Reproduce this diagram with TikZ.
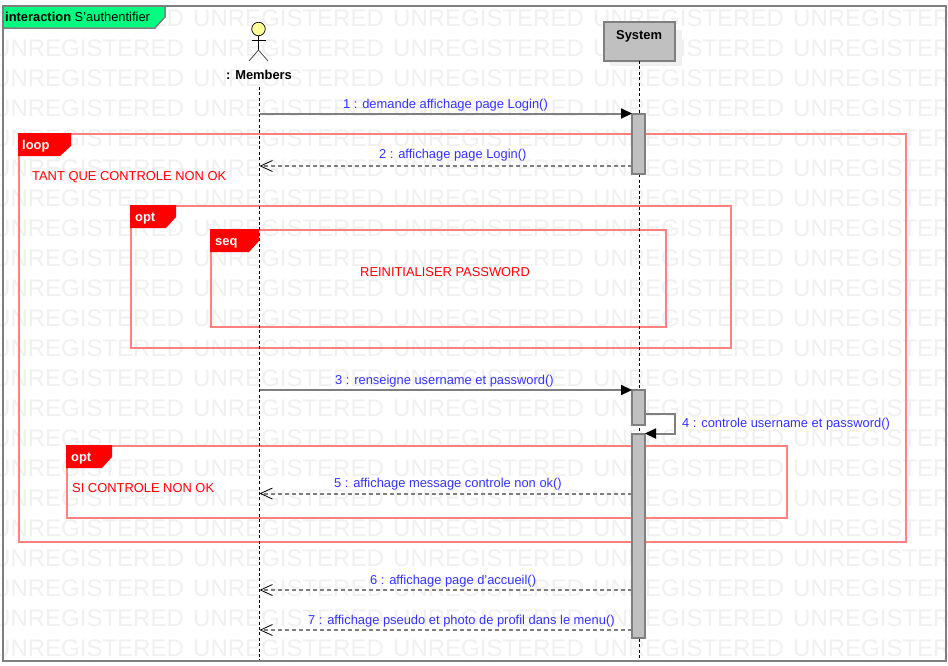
\documentclass[tikz,border=0pt]{standalone}
\usepackage{fontspec}
\setmainfont{Liberation Sans}
\usetikzlibrary{arrows.meta}
\definecolor{wm}{HTML}{F0F0F0}
\definecolor{framegray}{HTML}{7F7F7F}
\definecolor{fragline}{HTML}{FF8080}
\definecolor{msgblue}{HTML}{3333FF}
\definecolor{boxgray}{HTML}{C0C0C0}
\definecolor{tabgreen}{HTML}{00FF80}
\definecolor{actorfill}{HTML}{FFFF99}
\tikzset{
  x=1pt,y=-1pt,
  wmtext/.style={font=\fontsize{24}{24}\selectfont,text=wm,inner sep=0pt,anchor=base west},
  fragbox/.style={draw=fragline,line width=2pt},
  fragtab/.style={fill=red,draw=none},
  tablabel/.style={font=\fontsize{12.9}{15}\selectfont\bfseries,text=white,inner sep=0pt,anchor=base west},
  redtext/.style={font=\fontsize{12.9}{15}\selectfont,text=red,inner sep=0pt,anchor=base west},
  msglabel/.style={font=\fontsize{12.9}{15}\selectfont,text=msgblue,inner sep=0pt,anchor=base west},
  lifeline/.style={draw=black,line width=1pt,dash pattern=on 3pt off 2.4pt},
  activation/.style={draw=framegray,fill=boxgray,line width=2pt,inner sep=0pt,outer sep=0pt,minimum width=13pt,anchor=north},
  callarrow/.style={draw=framegray,line width=2pt,-{Triangle[black,length=11pt,width=10pt]}},
  retarrow/.style={draw=framegray,line width=2pt,dash pattern=on 4pt off 3pt,-{Straight Barb[black,line width=0.8pt,length=12pt,width=11pt]}},
}
\begin{document}
\begin{tikzpicture}
\useasboundingbox (0,0) rectangle (948,665);
\fill[white] (0,0) rectangle (948,665);
% watermark
\begin{scope}
\clip (0,0) rectangle (948,665);
\foreach \r in {0,...,21}{
  \foreach \c in {0,...,4}{
    \node[wmtext] (wm\r-\c) at ({-7+200*\c},{26+30*\r}) {UNREGISTERED};
  }
}
\end{scope}
% frame
\draw[framegray,line width=2pt] (3,6) rectangle (945.5,661);
\fill[tabgreen] (4,7) -- (165,7) -- (165,17) -- (155,28) -- (4,28) -- cycle;
\draw[framegray,line width=1.5pt] (3,28) -- (155,28) -- (165,17) -- (165,6);
\node[inner sep=0pt,anchor=base west,font=\fontsize{12.9}{15}\selectfont] (ttl) at (5,21) {\textbf{interaction} S'authentifier};
% fragments
\draw[fragbox] (19,134) rectangle (906,542);
\fill[fragtab] (18,133) -- (71,133) -- (71,146) -- (60,156) -- (18,156) -- cycle;
\node[tablabel] (loopl) at (22,149) {loop};
\node[redtext] (loopc) at (32,180) {TANT QUE CONTROLE NON OK};
\draw[fragbox] (131,206) rectangle (731,348);
\fill[fragtab] (130,205) -- (176,205) -- (176,217) -- (166,228) -- (130,228) -- cycle;
\node[tablabel] (optl) at (135,221) {opt};
\draw[fragbox] (211,230) rectangle (666,327);
\fill[fragtab] (210,229) -- (259,229) -- (259,241) -- (249,252) -- (210,252) -- cycle;
\node[tablabel] (seql) at (215,245) {seq};
\node[redtext] (seqc) at (360,276) {REINITIALISER PASSWORD};
\draw[fragbox] (67,446) rectangle (787,518);
\fill[fragtab] (66,445) -- (112,445) -- (112,457) -- (102,468) -- (66,468) -- cycle;
\node[tablabel] (optm) at (71,461) {opt};
\node[redtext] (optc) at (72,492) {SI CONTROLE NON OK};
% actor
\node[draw=black,fill=actorfill,circle,line width=0.7pt,minimum size=13.5pt,inner sep=0pt] (head) at (258.5,29) {};
\coordinate (hip) at (258.5,50);
\coordinate (armL) at (251.5,40);
\coordinate (armR) at (265.5,40);
\coordinate (legL) at (249,61);
\coordinate (legR) at (268,61);
\draw[black,line width=0.8pt] (head.south) -- (hip);
\draw[black,line width=0.8pt] (armL) -- (armR);
\draw[black!70,line width=0.8pt] (legL) -- (hip) -- (legR);
\node[inner sep=0pt,anchor=base west,font=\fontsize{12.9}{15}\selectfont\bfseries] (memb) at (226,79) {: Members};
% system
\fill[wm] (610,30) rectangle (682,66);
\node[draw=framegray,fill=boxgray,line width=2pt,inner sep=0pt,outer sep=0pt,minimum width=71pt,minimum height=39pt,anchor=north west] (sys) at (603.5,22) {};
\node[inner sep=0pt,anchor=base west,font=\fontsize{12.9}{15}\selectfont\bfseries] (sysl) at (616,39) {System};
% lifelines
\coordinate (mtop) at (259.5,87);
\coordinate (mbot) at (259.5,660);
\coordinate (sbot) at (639.5,660);
\draw[lifeline] (mtop) -- (mbot);
\draw[lifeline] (sys.south -| sbot) -- (sbot);
% activations
\node[activation,minimum height=60pt] (a1) at (638.5,114) {};
\node[activation,minimum height=35pt] (a2) at (638.5,390) {};
\node[activation,minimum height=204pt] (a3) at (638.5,434) {};
% message end points on the members lifeline
\coordinate (m1) at (259.5,113.5);
\coordinate (m2) at (259.5,166);
\coordinate (m3) at (259.5,390);
\coordinate (m5) at (259.5,493.5);
\coordinate (m6) at (259.5,590);
\coordinate (m7) at (259.5,630);
\coordinate (sa) at (675,414);
\coordinate (sb) at (675,433.5);
% messages
\draw[callarrow] (m1) -- (a1.north west |- m1);
\draw[retarrow] (a1.west |- m2) -- (m2);
\draw[callarrow] (m3) -- (a2.north west |- m3);
\draw[callarrow] (a2.east |- sa) -- (sa) -- (sb) -- (a3.north east |- sb);
\draw[retarrow] (a3.west |- m5) -- (m5);
\draw[retarrow] (a3.west |- m6) -- (m6);
\draw[retarrow] (a3.west |- m7) -- (m7);
% labels
\node[msglabel] (l1) at (343,108) {1 : demande affichage page Login()};
\node[msglabel] (l2) at (379,158) {2 : affichage page Login()};
\node[msglabel] (l3) at (335,384) {3 : renseigne username et password()};
\node[msglabel] (l4) at (682,427) {4 : controle username et password()};
\node[msglabel] (l5) at (334,487) {5 : affichage message controle non ok()};
\node[msglabel] (l6) at (370,584) {6 : affichage page d'accueil()};
\node[msglabel] (l7) at (308,624) {7 : affichage pseudo et photo de profil dans le menu()};
\end{tikzpicture}
\end{document}
